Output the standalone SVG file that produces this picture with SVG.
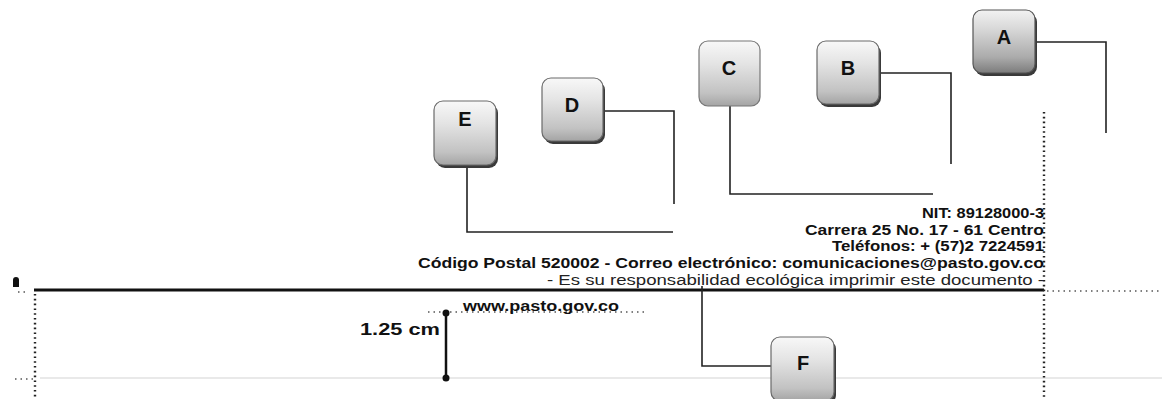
<svg xmlns="http://www.w3.org/2000/svg" width="1162" height="399" viewBox="0 0 1162 399">
  <defs>
    <linearGradient id="boxg" x1="0" y1="0" x2="0" y2="1">
      <stop offset="0" stop-color="#f8f8f8"/>
      <stop offset="0.35" stop-color="#e4e4e4"/>
      <stop offset="0.8" stop-color="#c2c2c2"/>
      <stop offset="1" stop-color="#a4a4a4"/>
    </linearGradient>
    <linearGradient id="boxgA" x1="0" y1="0" x2="0" y2="1">
      <stop offset="0" stop-color="#f2f2f2"/>
      <stop offset="0.3" stop-color="#d8d8d8"/>
      <stop offset="0.75" stop-color="#ababab"/>
      <stop offset="1" stop-color="#7c7c7c"/>
    </linearGradient>
    <style>
      .shadow { fill: #3a3a3a; }
      .box { fill: url(#boxg); stroke: #6a6a6a; stroke-width: 1.2; }
      .boxA { fill: url(#boxgA); stroke: #555; stroke-width: 1.2; }
      .lbl { font-family: "Liberation Sans", Arial, sans-serif; font-weight: bold; font-size: 20px; fill: #111; text-anchor: middle; }
      .conn { fill: none; stroke: #222; stroke-width: 1.6; }
      .foot { font-family: "Liberation Sans", Arial, sans-serif; font-weight: bold; font-size: 14px; fill: #111; text-anchor: end; }
      .footr { font-family: "Liberation Sans", Arial, sans-serif; font-size: 14px; fill: #222; text-anchor: end; }
      .dots { fill: none; stroke: #222; stroke-width: 2.4; stroke-dasharray: 1.6 3.2; }
      .dotsl { fill: none; stroke: #555; stroke-width: 1.6; stroke-dasharray: 1.5 4; }
    </style>
  </defs>
  <rect width="1162" height="399" fill="#ffffff"/>

  <!-- page guides -->
  <line x1="40" y1="378" x2="1162" y2="378" stroke="#e2e2e2" stroke-width="1.5"/>
  <line x1="34" y1="290" x2="1044" y2="290" stroke="#111" stroke-width="3"/>
  <line x1="1047" y1="291" x2="1162" y2="291" class="dotsl"/>
  <line x1="1044" y1="112" x2="1044" y2="399" class="dots"/>
  <line x1="35" y1="294" x2="35" y2="399" class="dots"/>
  <line x1="15" y1="379" x2="33" y2="379" class="dotsl"/>
  <line x1="18" y1="292" x2="28" y2="292" class="dotsl"/>
  <path d="M13,287 L13,280 Q13,277 16,277 Q19,277 19,280 L19,287 Z" fill="#111"/>

  <!-- footer text -->
  <text class="foot" x="1044" y="218" textLength="122" lengthAdjust="spacingAndGlyphs">NIT: 89128000-3</text>
  <text class="foot" x="1044" y="235" textLength="239" lengthAdjust="spacingAndGlyphs">Carrera 25 No. 17 - 61 Centro</text>
  <text class="foot" x="1044" y="251" textLength="212" lengthAdjust="spacingAndGlyphs">Teléfonos: + (57)2 7224591</text>
  <text class="foot" x="1044" y="268" textLength="626" lengthAdjust="spacingAndGlyphs">Código Postal 520002 - Correo electrónico: comunicaciones@pasto.gov.co</text>
  <text class="footr" x="1044" y="285" textLength="497" lengthAdjust="spacingAndGlyphs">- Es su responsabilidad ecológica imprimir este documento -</text>

  <!-- www + measurement -->
  <line x1="428" y1="312" x2="648" y2="312" class="dotsl"/>
  <text x="463" y="311" font-family="'Liberation Sans', Arial, sans-serif" font-weight="bold" font-size="14" fill="#111" textLength="156" lengthAdjust="spacingAndGlyphs">www.pasto.gov.co</text>
  <g id="measure">
    <line x1="446" y1="313" x2="446" y2="378" stroke="#111" stroke-width="2.5"/>
    <circle cx="446" cy="313" r="3.5" fill="#111"/>
    <circle cx="446" cy="378" r="3.5" fill="#111"/>
    <text x="440" y="335" font-family="'Liberation Sans', Arial, sans-serif" font-weight="bold" font-size="16" fill="#111" text-anchor="end" textLength="80" lengthAdjust="spacingAndGlyphs">1.25 cm</text>
  </g>

  <!-- connectors -->
  <g id="connectors">
    <polyline class="conn" points="1035,42 1106,42 1106,133"/>
    <polyline class="conn" points="880,73 951,73 951,164"/>
    <polyline class="conn" points="730,106 730,194 933,194"/>
    <polyline class="conn" points="604,111 674,111 674,204"/>
    <polyline class="conn" points="467,167 467,232 673,232"/>
    <polyline class="conn" points="771,366 702,366 702,286"/>
  </g>

  <!-- nodes -->
  <g id="node-A">
    <rect class="shadow" x="975" y="13" width="62" height="63" rx="9"/>
    <rect class="boxA" x="973" y="10" width="62" height="63" rx="9"/>
    <text class="lbl" x="1004" y="44">A</text>
  </g>
  <g id="node-B">
    <rect class="shadow" x="819" y="44" width="62" height="63" rx="9"/>
    <rect class="box" x="817" y="41" width="62" height="63" rx="9"/>
    <text class="lbl" x="848" y="75">B</text>
  </g>
  <g id="node-C">
    <rect x="699" y="41" width="61" height="65" rx="9" fill="url(#boxg)" stroke="#777" stroke-width="1.2"/>
    <text class="lbl" x="729" y="75">C</text>
  </g>
  <g id="node-D">
    <rect class="shadow" x="544" y="81" width="61" height="63" rx="9"/>
    <rect class="box" x="542" y="78" width="61" height="63" rx="9"/>
    <text class="lbl" x="572" y="112">D</text>
  </g>
  <g id="node-E">
    <rect class="shadow" x="436" y="104" width="62" height="64" rx="9"/>
    <rect class="box" x="434" y="101" width="62" height="64" rx="9"/>
    <text class="lbl" x="465" y="126">E</text>
  </g>
  <g id="node-F">
    <rect class="shadow" x="773" y="340" width="63" height="64" rx="9"/>
    <rect class="box" x="771" y="337" width="63" height="64" rx="9"/>
    <text class="lbl" x="803" y="370">F</text>
  </g>
</svg>
